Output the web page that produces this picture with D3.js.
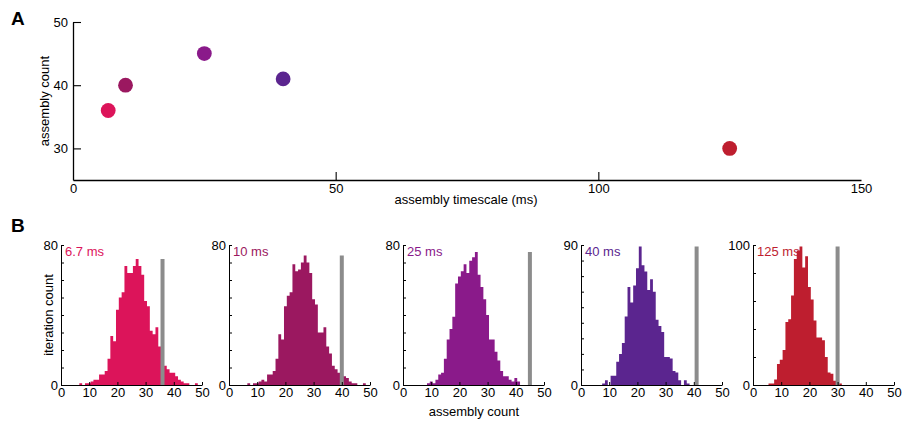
<!DOCTYPE html>
<html>
<head>
<meta charset="utf-8">
<script src="https://cdnjs.cloudflare.com/ajax/libs/d3/7.8.5/d3.min.js"></script>
<style>
  body { margin: 0; background: #fff; }
  svg { font-family: "Liberation Sans", Arial, Helvetica, sans-serif; }
  .axis path, .axis line { stroke: #000; }
  .axis text { font-size: 13px; fill: #000; font-family: "Liberation Sans", Arial, sans-serif; }
</style>
</head>
<body>
<div id="graph"></div>
<script>
// panel A: one point per timescale
var timescales = [6.7, 10, 25, 40, 125];
var timescaleLabels = ["6.7 ms", "10 ms", "25 ms", "40 ms", "125 ms"];
var observedCounts = [36, 40, 45, 41, 30];
var colors = ["#dc145a", "#9b1860", "#8a1a8a", "#5b258f", "#be1e2f"];

// panel B: shuffled-iteration histograms, bins 0..50 (count per integer bin)
var hist67 = [0,0,0,0,0,0,0,1,0,1, 1,2,3,3,6,6,8,15,28,25, 43,50,53,68,64,64,68,72,68,63, 48,45,31,29,33,22,14,11,9,7, 7,5,3,2,1,1,0,0,1,0, 0];
var hist10 = [0,0,0,0,0,0,0,1,0,1, 1,2,3,2,6,6,8,15,29,26, 45,51,53,69,65,66,70,74,70,64, 49,46,30,30,33,22,18,11,9,7, 6,5,4,2,1,1,0,0,1,0, 0];
var hist25 = [0,0,0,0,0,0,0,0,0,1, 2,1,3,6,7,15,26,32,39,58, 62,65,69,64,71,73,76,63,56,49, 40,26,26,19,14,8,5,5,3,2, 4,2,0,0,0,0,0,0,0,0, 0];
var hist40 = [0,0,0,0,0,0,0,0,1,3, 0,6,6,15,20,27,44,63,53,64, 75,89,77,73,61,68,60,42,38,34, 18,18,17,9,8,3,0,3,1,0, 0,0,0,0,0,0,0,0,0,0, 0];
var hist125 = [0,0,0,0,0,0,1,1,4,15, 18,25,45,47,64,90,96,99,84,92, 70,61,46,34,34,32,20,9,8,3, 2,1,0,0,0,0,0,0,0,0, 0,0,0,0,0,0,0,0,0,0, 0];
var histograms = [hist67, hist10, hist25, hist40, hist125];
var histYMax = [80, 80, 80, 90, 100];
var histYStep = [10, 10, 10, 10, 20];
var histXTicks = [0, 10, 20, 30, 40, 50];

var svg = d3.select("#graph").append("svg")
    .attr("width", 903)
    .attr("height", 426);

svg.append("rect").attr("width", 903).attr("height", 426).attr("fill", "#fff");

// ---------- panel A ----------
var xA = d3.scaleLinear().domain([0, 150]).range([73, 861]);
var yA = d3.scaleLinear().domain([25, 50]).range([180, 22]);

svg.append("g")
    .attr("class", "axis")
    .attr("transform", "translate(0,180)")
    .call(d3.axisBottom(xA).tickValues([0, 50, 100, 150]).tickSizeInner(-8).tickSizeOuter(0).tickPadding(4))
    .call(function (g) {
        g.select(".domain").attr("stroke-width", 1.3);
        g.selectAll(".tick line").attr("stroke-width", 1.1)
            .filter(function (d) { return d === 0 || d === 150; }).remove();
    });

svg.append("g")
    .attr("class", "axis")
    .attr("transform", "translate(73,0)")
    .call(d3.axisLeft(yA).tickValues([30, 40, 50]).tickSizeInner(-8).tickSizeOuter(0).tickPadding(5))
    .call(function (g) {
        g.select(".domain").attr("stroke-width", 1.3);
        g.selectAll(".tick line").attr("stroke-width", 1.1);
    });

svg.selectAll(".dotA")
    .data(timescales)
    .enter().append("circle")
    .attr("class", "dotA")
    .attr("cx", function (d) { return xA(d); })
    .attr("cy", function (d, i) { return yA(observedCounts[i]); })
    .attr("r", 7.4)
    .attr("fill", function (d, i) { return colors[i]; });

svg.append("text")
    .attr("x", 466).attr("y", 204)
    .attr("text-anchor", "middle")
    .attr("font-size", 13)
    .text("assembly timescale (ms)");

svg.append("text")
    .attr("transform", "translate(49,101) rotate(-90)")
    .attr("text-anchor", "middle")
    .attr("font-size", 13)
    .text("assembly count");

svg.append("text")
    .attr("x", 11).attr("y", 25)
    .attr("font-size", 19).attr("font-weight", "bold")
    .text("A");

svg.append("text")
    .attr("x", 11).attr("y", 232)
    .attr("font-size", 19).attr("font-weight", "bold")
    .text("B");

// ---------- panel B ----------
var panelLeft = [61, 229, 403, 581, 753];
var panelWidth = 141;

histograms.forEach(function (counts, p) {
    var x = d3.scaleLinear().domain([0, 50]).range([panelLeft[p], panelLeft[p] + panelWidth]);
    var y = d3.scaleLinear().domain([0, histYMax[p]]).range([385, 245]);

    // step outline: each bin spans k-0.5 .. k+0.5
    var steps = [];
    counts.forEach(function (c, k) {
        steps.push({v: Math.max(0, k - 0.5), c: c});
        steps.push({v: Math.min(50, k + 0.5), c: c});
    });
    var area = d3.area()
        .x(function (d) { return x(d.v); })
        .y0(y(0))
        .y1(function (d) { return y(d.c); });

    svg.append("path")
        .datum(steps)
        .attr("d", area)
        .attr("fill", colors[p]);

    // observed value as a grey bar, as tall as the histogram peak
    var peak = d3.max(counts);
    svg.append("line")
        .attr("x1", x(observedCounts[p])).attr("x2", x(observedCounts[p]))
        .attr("y1", y(0)).attr("y2", y(peak))
        .attr("stroke", "#8c8c8c")
        .attr("stroke-width", 4);

    svg.append("g")
        .attr("class", "axis")
        .attr("transform", "translate(0,385)")
        .call(d3.axisBottom(x).tickValues(histXTicks).tickSizeInner(-3).tickSizeOuter(0).tickPadding(3));

    var yt = d3.range(0, histYMax[p] + 1, histYStep[p]);
    svg.append("g")
        .attr("class", "axis")
        .attr("transform", "translate(" + panelLeft[p] + ",0)")
        .call(d3.axisLeft(y).tickValues(yt).tickSizeInner(-3).tickSizeOuter(0).tickPadding(3)
            .tickFormat(function (d) { return (d === 0 || d === histYMax[p]) ? d : ""; }));

    svg.append("text")
        .attr("x", panelLeft[p] + 4).attr("y", 256)
        .attr("font-size", 13)
        .attr("fill", colors[p])
        .text(timescaleLabels[p]);
});

svg.append("text")
    .attr("transform", "translate(53,315) rotate(-90)")
    .attr("text-anchor", "middle")
    .attr("font-size", 13)
    .text("iteration count");

svg.append("text")
    .attr("x", 474).attr("y", 416)
    .attr("text-anchor", "middle")
    .attr("font-size", 13)
    .text("assembly count");
</script>
</body>
</html>
